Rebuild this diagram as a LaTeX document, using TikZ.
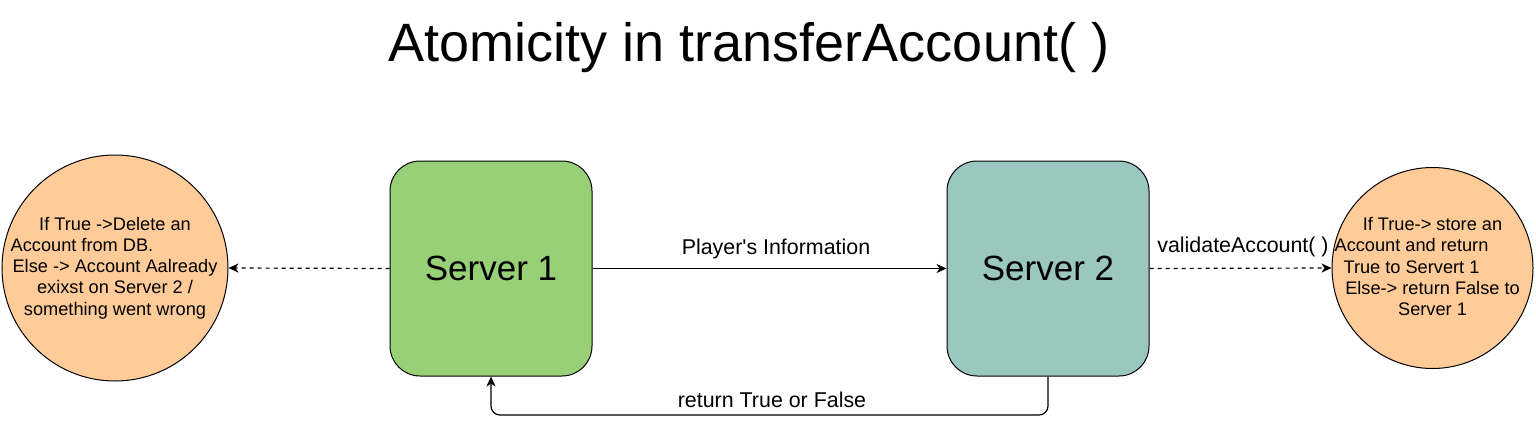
\documentclass[tikz,border=0pt]{standalone}
\usepackage{fontspec}
\setmainfont{Liberation Sans}[Ligatures=TeXOff]
\usetikzlibrary{arrows.meta}
\definecolor{srvone}{HTML}{97D077}
\definecolor{srvtwo}{HTML}{9AC7BF}
\definecolor{note}{HTML}{FFCC99}
\newcommand\trailgap[1]{\hbox to #1{}}
\begin{document}
\begin{tikzpicture}[x=1pt,y=-1pt,
  server/.style={draw=black,line width=1pt,rounded corners=30pt,minimum width=202pt,minimum height=215pt,inner sep=0pt,font=\fontsize{35}{40}\selectfont},
  notecircle/.style={circle,draw=black,line width=1pt,fill=note,inner sep=0pt},
  notetext/.style={inner sep=0pt,align=center,font=\fontsize{18.2}{21.2}\selectfont},
  conn/.style={line width=1.2pt,-{Stealth[length=10pt,width=9pt,inset=3pt]}},
  lbl/.style={font=\fontsize{21.4}{24}\selectfont,inner sep=0pt}
]
\useasboundingbox (0,0) rectangle (1536,431);
\node[font=\fontsize{54}{60}\selectfont,inner sep=0pt] (title) at (749,48) {Atomicity in transferAccount( )};
\node[server,fill=srvone] (s1) at (491,268.5) {Server 1};
\node[server,fill=srvtwo] (s2) at (1048,268.5) {Server 2};
\node[notecircle,minimum size=226pt] (c1) at (115,268) {};
\node[notetext] (c1t) at (c1.center) {If True ->Delete an\\Account from DB.\trailgap{66pt}\\Else -> Account Aalready\\exixst on Server 2 /\\something went wrong};
\node[notecircle,minimum size=201pt] (c2) at (1432.5,268) {};
\node[notetext] (c2t) at ([yshift=1.5pt]c2.center) {If True-> store an\\Account and return\trailgap{42pt}\\True to Servert 1\trailgap{42pt}\\Else-> return False to\\Server 1};
\draw[conn] (s1.east) -- (s2.west);
\node[lbl] (l1) at (776,249) {Player's Information};
\draw[conn,dashed,dash pattern=on 4pt off 4pt] (s1.west) -- (c1.east);
\draw[conn,dashed,dash pattern=on 4pt off 4pt] (s2.east) -- (c2.west);
\node[lbl] (l2) at (1243,247) {validateAccount( )};
\coordinate (b2) at (1048,415);
\coordinate (b1) at (491,415);
\draw[conn,rounded corners=9pt] (s2.south) -- (b2) -- (b1) -- (s1.south);
\node[lbl] (l3) at (772,400) {return True or False};
\end{tikzpicture}
\end{document}
